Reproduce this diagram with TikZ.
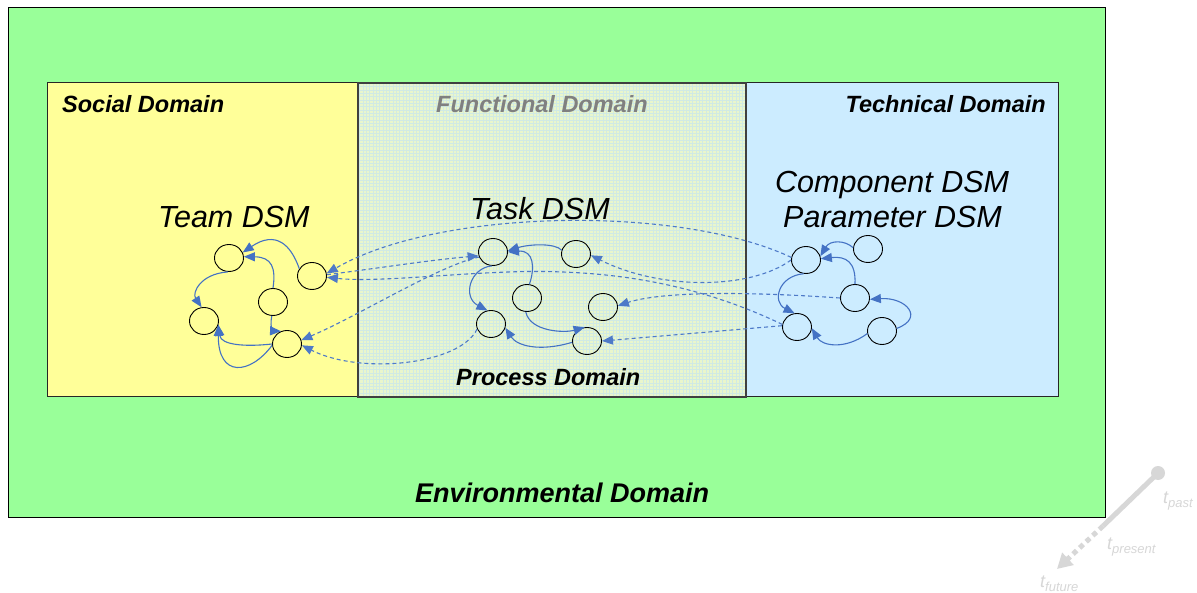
\documentclass[tikz,border=0pt]{standalone}
\usepackage{fontspec}
\setmainfont{Liberation Sans}
\usetikzlibrary{arrows.meta,shapes.geometric}
\definecolor{envgreen}{RGB}{153,255,153}
\definecolor{socyellow}{RGB}{255,255,153}
\definecolor{funfill}{RGB}{233,246,204}
\definecolor{fungrid}{RGB}{208,234,228}
\definecolor{techblue}{RGB}{204,236,255}
\definecolor{edgeblue}{RGB}{68,114,196}
\definecolor{dashblue}{RGB}{78,122,200}
\definecolor{timegray}{RGB}{215,215,215}
\definecolor{fungray}{RGB}{128,128,128}
\begin{document}
\begin{tikzpicture}[x=1pt,y=-1pt,
  dsmnode/.style={ellipse,draw=black,line width=0.9pt,minimum width=29pt,minimum height=27pt,inner sep=0pt},
  intra/.style={draw=edgeblue,line width=1.1pt,-{Triangle[length=11pt,width=9pt]}},
  inter/.style={draw=dashblue,line width=1.1pt,dash pattern=on 4pt off 3pt,-{Triangle[length=11pt,width=9pt]}},
  domlabel/.style={font=\fontsize{23.5}{27}\selectfont\bfseries\itshape,inner sep=0pt,anchor=base west},
  dsmlabel/.style={font=\fontsize{30.5}{34}\selectfont\itshape,inner sep=0pt,anchor=base west},
  timelab/.style={font=\fontsize{18}{20}\selectfont\itshape,text=timegray,inner sep=0pt,anchor=base west},
  dombox/.style={draw=black!85,line width=1pt},
]
\useasboundingbox (0,0) rectangle (1197,593);
\fill[white] (0,0) rectangle (1197,593);
% environment
\fill[envgreen] (8,8) rectangle (1105,517);
\draw[line width=1pt] (8,8) rectangle (1105,517);
% domains
\fill[socyellow] (47,83) rectangle (358,397);
\fill[funfill] (358,83) rectangle (746,397);
\draw[fungrid,line width=0.3pt,xstep=3.33pt,ystep=3.33pt] (358,83) grid (746,397);
\fill[techblue] (746,83) rectangle (1058,397);
\draw[dombox] (47,83) rectangle (358,397);
\draw[dombox] (746,83) rectangle (1058,397);
\draw[draw=black!75,line width=1.6pt] (358,83) rectangle (746,397);
% labels
\node[domlabel] (lsoc) at (62,113) {Social Domain};
\node[domlabel,text=fungray] (lfun) at (436,113) {Functional Domain};
\node[domlabel,anchor=base east] (ltec) at (1046,113) {Technical Domain};
\node[domlabel] (lpro) at (456,386) {Process Domain};
\node[domlabel,font=\fontsize{27}{31}\selectfont\bfseries\itshape] (lenv) at (415,502) {Environmental Domain};
\node[dsmlabel] (lteam) at (158,228) {Team DSM};
\node[dsmlabel] (ltask) at (470,220) {Task DSM};
\node[dsmlabel] (lcomp) at (775,193) {Component DSM};
\node[dsmlabel] (lpar) at (783,228) {Parameter DSM};
% nodes
\node[dsmnode] (S1) at (229,258) {};
\node[dsmnode] (S2) at (312,276) {};
\node[dsmnode] (S3) at (273,302) {};
\node[dsmnode] (S4) at (204,321) {};
\node[dsmnode] (S5) at (287,344) {};
\node[dsmnode] (F1) at (493,252) {};
\node[dsmnode] (F2) at (576,254) {};
\node[dsmnode] (F3) at (527,298) {};
\node[dsmnode] (F4) at (603,307) {};
\node[dsmnode] (F5) at (491,324) {};
\node[dsmnode] (F6) at (587,341) {};
\node[dsmnode] (T1) at (806,260) {};
\node[dsmnode] (T2) at (868,249) {};
\node[dsmnode] (T3) at (855,298) {};
\node[dsmnode] (T4) at (797,327) {};
\node[dsmnode] (T5) at (882,331) {};
% social edges
\draw[intra] (S1.265) .. controls (200,274) and (192,293) .. (S4.100);
\draw[intra] (S2.150) .. controls (291,245) and (276,230) .. (S1.22);
\draw[intra] (S3.north) .. controls (276,268) and (272,257) .. (S1.5);
\draw[intra] (S3.265) .. controls (269,330) and (275,331) .. (S5.115);
\draw[intra] (S5.180) .. controls (245,347) and (221,345) .. (S4.345);
\draw[intra] (S5.185) .. controls (250,375) and (218,378) .. (S4.345);
% functional edges
\draw[intra] (F2.165) .. controls (555,243) and (530,244) .. (F1.5);
\draw[intra] (F3.80) .. controls (535,268) and (534,250) .. (F1.0);
\draw[intra] (F1.265) .. controls (470,268) and (462,297) .. (F5.105);
\draw[intra] (F3.265) .. controls (530,332) and (565,333) .. (F6.100);
\draw[intra] (F6.185) .. controls (540,352) and (517,346) .. (F5.345);
% technical edges
\draw[intra] (T2.175) .. controls (845,240) and (830,240) .. (T1.15);
\draw[intra] (T3.north) .. controls (856,262) and (846,256) .. (T1.5);
\draw[intra] (T1.260) .. controls (778,276) and (772,302) .. (T4.100);
\draw[intra] (T5.10) .. controls (925,318) and (906,297) .. (T3.355);
\draw[intra] (T5.190) .. controls (845,350) and (822,346) .. (T4.355);
% inter-domain edges
\draw[inter] (T1.170) .. controls (680,205) and (440,208) .. (S2.10);
\draw[inter] (S2.5) .. controls (380,268) and (430,260) .. (F1.195);
\draw[inter] (F1.200) .. controls (440,265) and (360,315) .. (S5.15);
\draw[inter] (F5.200) .. controls (460,365) and (360,375) .. (S5.355);
\draw[inter] (T4.170) .. controls (700,285) and (620,272) .. (540,271.5) .. controls (470,271) and (380,283) .. (S2.355);
\draw[inter] (T1.180) .. controls (750,290) and (660,290) .. (F2.355);
\draw[inter] (T3.180) .. controls (740,291) and (660,292) .. (F4.5);
\draw[inter] (T4.175) .. controls (720,331) and (650,337) .. (F6.0);
% time arrow
\node[circle,fill=timegray,minimum size=14pt,inner sep=0pt] (tpast) at (1158,473) {};
\coordinate (tnow) at (1103,526);
\coordinate (tfut) at (1057,569);
\draw[timegray,line width=5pt] (tpast.center) -- (tnow);
\draw[timegray,line width=5pt,dash pattern=on 5pt off 4pt,-{Triangle[length=15pt,width=16pt]}] (tnow) -- (tfut);
\node[timelab] (lpast) at (1163,503) {t\raisebox{-4pt}{\fontsize{13}{14}\selectfont past}};
\node[timelab] (lpres) at (1107,549) {t\raisebox{-4pt}{\fontsize{13}{14}\selectfont present}};
\node[timelab] (lfut) at (1040,587) {t\raisebox{-4pt}{\fontsize{13}{14}\selectfont future}};
\end{tikzpicture}
\end{document}
